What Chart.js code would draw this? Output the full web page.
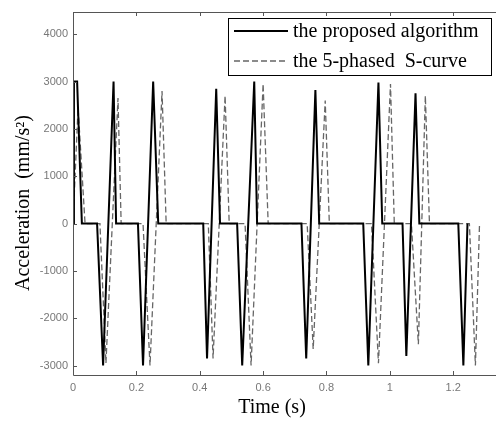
<!DOCTYPE html>
<html>
<head>
<meta charset="utf-8">
<script src="https://cdn.jsdelivr.net/npm/chart.js@4.4.0/dist/chart.umd.min.js"></script>
<style>
  html, body { margin: 0; padding: 0; background: #fff; overflow: hidden; }
</style>
</head>
<body>
<canvas id="accChart" width="496" height="421"></canvas>
<script>
// 데이터
const seriesLabels = ['the proposed algorithm', 'the 5-phased  S-curve'];

const proposedTime = [0, 0.003, 0.013, 0.028, 0.076, 0.095, 0.128, 0.136, 0.205, 0.221, 0.253, 0.269,
  0.411, 0.423, 0.452, 0.464, 0.518, 0.534, 0.572, 0.581, 0.721, 0.736, 0.765, 0.777,
  0.916, 0.932, 0.964, 0.976, 1.040, 1.052, 1.081, 1.093, 1.216, 1.232, 1.245];
const proposedAcc = [0, 3000, 3000, 0, 0, -3000, 3000, 0, 0, -3000, 3000, 0,
  0, -2850, 2850, 0, 0, -3000, 3000, 0, 0, -2850, 2820, 0,
  0, -3000, 2980, 0, 0, -2800, 2750, 0, 0, -3000, 0];

const scurveTime = [0, 0.016, 0.038, 0.085, 0.104, 0.142, 0.152, 0.221, 0.243, 0.281, 0.294,
  0.427, 0.442, 0.480, 0.493, 0.543, 0.562, 0.600, 0.616, 0.739, 0.758, 0.796, 0.809,
  0.942, 0.964, 1.002, 1.014, 1.068, 1.090, 1.112, 1.125, 1.251, 1.270, 1.283];
const scurveAcc = [0, 2450, 0, 0, -2950, 2650, 0, 0, -3000, 2800, 0,
  0, -2850, 2700, 0, 0, -3000, 2950, 0, 0, -2650, 2600, 0,
  0, -2950, 2950, 0, 0, -2550, 2700, 0, 0, -3000, 0];

const xTicks = [0, 0.2, 0.4, 0.6, 0.8, 1, 1.2];
const yTicks = [-3000, -2000, -1000, 0, 1000, 2000, 3000, 4000];

function toPoints(xs, ys) {
    return xs.map((x, i) => ({ x: x, y: ys[i] }));
}

const serif = '"Liberation Serif", "Times New Roman", serif';

// 축 테두리 + 안쪽 눈금
const framePlugin = {
    id: 'frame',
    afterDatasetsDraw(chart) {
        const { ctx, chartArea: a, scales: { x, y } } = chart;
        ctx.save();
        ctx.strokeStyle = '#555';
        ctx.lineWidth = 1;
        ctx.beginPath();
        ctx.moveTo(a.right + 2, a.top + 0.5);
        ctx.lineTo(a.left + 0.5, a.top + 0.5);
        ctx.lineTo(a.left + 0.5, a.bottom + 0.5);
        ctx.lineTo(a.right + 2, a.bottom + 0.5);
        xTicks.forEach(v => {
            const px = Math.round(x.getPixelForValue(v)) + 0.5;
            ctx.moveTo(px, a.bottom); ctx.lineTo(px, a.bottom - 4);
            ctx.moveTo(px, a.top); ctx.lineTo(px, a.top + 4);
        });
        yTicks.forEach(v => {
            const py = Math.round(y.getPixelForValue(v)) + 0.5;
            ctx.moveTo(a.left, py); ctx.lineTo(a.left + 4, py);
        });
        ctx.stroke();
        ctx.restore();
    }
};

// 범례 + 축 제목
const legendPlugin = {
    id: 'boxLegend',
    afterDraw(chart) {
        const { ctx, chartArea: a } = chart;
        const bx = a.left + 155, by = a.top + 6, bw = 263, bh = 57;
        ctx.save();
        ctx.fillStyle = '#fff';
        ctx.fillRect(bx, by, bw, bh);
        ctx.strokeStyle = '#000';
        ctx.lineWidth = 1;
        ctx.strokeRect(bx + 0.5, by + 0.5, bw, bh);

        chart.data.datasets.forEach((ds, i) => {
            const ly = by + 13 + i * 30;
            ctx.beginPath();
            ctx.strokeStyle = ds.borderColor;
            ctx.lineWidth = ds.borderWidth;
            ctx.setLineDash(ds.borderDash || []);
            ctx.moveTo(bx + 6, ly);
            ctx.lineTo(bx + 60, ly);
            ctx.stroke();
            ctx.setLineDash([]);
            ctx.fillStyle = '#000';
            ctx.font = '20px ' + serif;
            ctx.textBaseline = 'middle';
            ctx.textAlign = 'left';
            ctx.fillText(ds.label, bx + 65, ly + 1);
        });

        // 축 제목
        ctx.fillStyle = '#000';
        ctx.font = '20px ' + serif;
        ctx.textAlign = 'center';
        ctx.textBaseline = 'middle';
        ctx.fillText('Time (s)', 272, 408);
        ctx.translate(24, 203);
        ctx.rotate(-Math.PI / 2);
        ctx.fillText('Acceleration  (mm/s²)', 0, 0);
        ctx.restore();
    }
};

document.addEventListener('DOMContentLoaded', function() {
    const ctx = document.getElementById('accChart').getContext('2d');

    new Chart(ctx, {
        type: 'line',
        data: {
            datasets: [{
                label: seriesLabels[0],
                data: toPoints(proposedTime, proposedAcc),
                borderColor: '#000',
                borderWidth: 2,
                pointRadius: 0,
                tension: 0
            }, {
                label: seriesLabels[1],
                data: toPoints(scurveTime, scurveAcc),
                borderColor: '#666',
                borderWidth: 1.3,
                borderDash: [6, 3],
                pointRadius: 0,
                tension: 0
            }]
        },
        options: {
            responsive: false,
            animation: false,
            devicePixelRatio: 1,
            layout: { padding: { top: 12, right: 0, left: 0, bottom: 0 } },
            plugins: {
                legend: { display: false },
                tooltip: { enabled: false }
            },
            scales: {
                x: {
                    type: 'linear',
                    min: 0,
                    max: 1.335,
                    afterBuildTicks: s => { s.ticks = xTicks.map(v => ({ value: v })); },
                    afterFit: s => { s.height = 46; },
                    grid: { drawOnChartArea: false, drawTicks: false },
                    border: { display: false },
                    ticks: {
                        padding: 6,
                        color: '#777',
                        font: { family: '"Liberation Sans", Arial, sans-serif', size: 11 },
                        maxRotation: 0,
                        callback: v => String(v)
                    }
                },
                y: {
                    min: -3200,
                    max: 4470,
                    afterBuildTicks: s => { s.ticks = yTicks.map(v => ({ value: v })); },
                    afterFit: s => { s.width = 73; },
                    grid: { drawOnChartArea: false, drawTicks: false },
                    border: { display: false },
                    ticks: {
                        padding: 5,
                        color: '#777',
                        font: { family: '"Liberation Sans", Arial, sans-serif', size: 11 },
                        callback: v => String(v)
                    }
                }
            }
        },
        plugins: [framePlugin, legendPlugin]
    });
});
</script>
</body>
</html>
